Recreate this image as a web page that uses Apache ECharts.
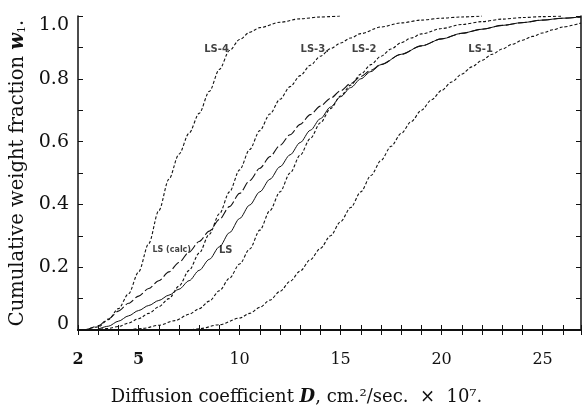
<!DOCTYPE html>
<html>
<head>
<meta charset="utf-8">
<script src="https://cdn.jsdelivr.net/npm/echarts@6/dist/echarts.min.js"></script>
<style>
  html, body { margin: 0; padding: 0; background: #fff; }
  #chart { width: 582px; height: 408px; }
</style>
</head>
<body>
<div id="chart"></div>
<script>
// cumulative weight fraction curves, [D (cm2/sec x 1e7), w]
const ls4 = [[2.35,0],[3,0.01],[3.5,0.033],[4,0.068],[4.5,0.115],[5,0.185],[5.5,0.275],[6,0.38],[6.5,0.48],[7,0.56],[7.5,0.627],[8,0.69],[8.5,0.76],[9,0.83],[9.5,0.89],[10,0.925],[10.5,0.948],[11,0.963],[12,0.98],[13,0.991],[14,0.997],[15,1.0]]
const ls3 = [[2.85,0],[3.5,0.005],[4,0.011],[4.5,0.022],[5,0.036],[5.5,0.053],[6,0.074],[6.5,0.1],[7,0.14],[7.5,0.19],[8,0.245],[8.5,0.305],[9,0.37],[9.5,0.44],[10,0.51],[10.5,0.575],[11,0.635],[11.5,0.688],[12,0.735],[12.5,0.775],[13,0.81],[13.5,0.843],[14,0.872],[14.5,0.896],[15,0.914],[15.5,0.93],[16,0.944],[17,0.965],[18,0.978],[19,0.987],[20,0.993],[21,0.997],[22,1.0]]
const ls2 = [[4.5,0],[5.2,0.005],[6,0.015],[6.8,0.03],[7.5,0.05],[8,0.068],[8.5,0.092],[9,0.125],[9.5,0.165],[10,0.21],[10.5,0.258],[11,0.318],[11.5,0.38],[12,0.44],[12.5,0.5],[13,0.557],[13.5,0.61],[14,0.66],[14.5,0.705],[15,0.745],[15.5,0.78],[16,0.815],[16.5,0.845],[17,0.872],[17.5,0.895],[18,0.915],[18.5,0.93],[19,0.943],[20,0.96],[21,0.973],[22,0.982],[23,0.99],[24,0.995],[25,0.998],[26,1.0]]
const ls1 = [[7.6,0],[8,0.004],[9,0.017],[10,0.038],[10.5,0.053],[11,0.072],[11.5,0.095],[12,0.123],[12.5,0.155],[13,0.188],[13.5,0.224],[14,0.26],[14.5,0.3],[15,0.345],[15.5,0.39],[16,0.44],[16.5,0.492],[17,0.54],[17.5,0.585],[18,0.626],[18.5,0.664],[19,0.7],[19.5,0.733],[20,0.763],[20.5,0.79],[21,0.815],[21.5,0.838],[22,0.859],[22.5,0.878],[23,0.895],[23.5,0.91],[24,0.923],[24.5,0.935],[25,0.946],[25.5,0.956],[26,0.965],[26.9,0.978]]
const lsSolid = [[2.9,0],[3.5,0.012],[4,0.028],[4.5,0.045],[5,0.062],[5.5,0.078],[6,0.094],[6.5,0.111],[7,0.13],[7.5,0.157],[8,0.19],[8.5,0.225],[9,0.265],[9.5,0.31],[10,0.355],[10.5,0.398],[11,0.44],[11.5,0.48],[12,0.52],[12.5,0.558],[13,0.597],[13.5,0.636],[14,0.673],[14.5,0.71],[15,0.743],[15.5,0.772],[16,0.8],[16.5,0.823],[17,0.845],[18,0.878],[19,0.905],[20,0.927],[21,0.945],[22,0.958],[23,0.97],[24,0.979],[25,0.987],[26,0.993],[26.9,0.997]]
const lsCalc = [[2.4,0],[3,0.013],[3.5,0.035],[4,0.06],[4.5,0.085],[5,0.108],[5.5,0.132],[6,0.157],[6.5,0.185],[7,0.215],[7.5,0.248],[8,0.282],[8.5,0.315],[9,0.352],[9.5,0.393],[10,0.435],[10.5,0.476],[11,0.515],[11.5,0.552],[12,0.588],[12.5,0.622],[13,0.655],[13.5,0.686],[14,0.713],[14.5,0.738],[15,0.762],[15.5,0.785],[16,0.807],[16.5,0.827],[17,0.846],[18,0.878],[19,0.905],[20,0.927],[21,0.945],[22,0.958],[23,0.97],[24,0.979],[25,0.987],[26,0.993],[26.9,0.997]]

// curve captions and where they sit
const captionNames = ['LS-4', 'LS-3.', 'LS-2', 'LS-1', 'LS (calc)', 'LS']
const captionPos = [[8.86,0.895],[13.72,0.893],[16.16,0.893],[21.93,0.893],[6.64,0.254],[9.31,0.254]]
const captionSizes = [10, 10, 10, 10, 8, 10]

const xTickLabels = [2, 5, 10, 15, 20, 25]
const boldXLabels = [2, 5]

const ink = '#111'
const serif = 'DejaVu Serif'

let chart = echarts.init(document.getElementById('chart'))

const curve = (name, data, dash) => ({
    name: name,
    type: 'line',
    data: data,
    smooth: 0.3,
    smoothMonotone: 'x',
    showSymbol: false,
    lineStyle: { color: ink, width: dash ? 1.1 : 1, type: dash || 'solid' },
    silent: true
})

const baseX = {
    type: 'value',
    min: 2,
    max: 26.9,
    interval: 1,
    splitLine: { show: false },
    axisTick: { inside: true, length: 5, lineStyle: { color: ink, width: 1 } },
    axisLine: { lineStyle: { color: ink, width: 2 } }
}
const baseY = {
    type: 'value',
    min: 0,
    max: 1,
    interval: 0.1,
    splitLine: { show: false },
    axisTick: { inside: true, length: 5, lineStyle: { color: ink, width: 1 } },
    axisLine: { lineStyle: { color: ink, width: 1.5 } }
}

chart.setOption({
    animation: false,
    grid: { left: 78, right: 1, top: 16, bottom: 78, outerBoundsMode: 'none' },
    xAxis: [
        Object.assign({}, baseX, {
            position: 'bottom',
            name: '{t|Diffusion coefficient }{d|D}{t|, cm.²/sec.  ×  10⁷.}',
            nameLocation: 'middle',
            nameGap: 58,
            nameTextStyle: {
                padding: [0, 66, 0, 0],
                rich: {
                    t: { fontFamily: serif, fontSize: 18, color: ink },
                    d: { fontFamily: serif, fontSize: 18, color: ink, fontStyle: 'italic', fontWeight: 'bold' }
                }
            },
            axisLabel: {
                margin: 22,
                formatter: v => {
                    if (xTickLabels.indexOf(v) < 0) return ''
                    return boldXLabels.indexOf(v) >= 0 ? '{b|' + v + '}' : '{n|' + v + '}'
                },
                rich: {
                    n: { fontFamily: serif, fontSize: 16, color: ink },
                    b: { fontFamily: serif, fontSize: 16, color: ink, fontWeight: 'bold' }
                }
            }
        }),
        Object.assign({}, baseX, { position: 'top', axisLabel: { show: false } })
    ],
    yAxis: [
        Object.assign({}, baseY, {
            position: 'left',
            name: '{t|Cumulative weight fraction }{w|w}{s|1}{t|.}',
            nameLocation: 'middle',
            nameGap: 48,
            nameTextStyle: {
                rich: {
                    t: { fontFamily: serif, fontSize: 19.5, color: ink },
                    w: { fontFamily: serif, fontSize: 19.5, color: ink, fontStyle: 'italic', fontWeight: 'bold' },
                    s: { fontFamily: serif, fontSize: 11, color: ink, verticalAlign: 'bottom', lineHeight: 19 }
                }
            },
            axisLabel: {
                margin: 9,
                verticalAlignMinLabel: 'bottom',
                verticalAlignMaxLabel: 'top',
                formatter: v => {
                    const k = Math.round(v * 10)
                    if (k % 2) return ''
                    if (k === 0) return '{z|0}'
                    if (k === 10) return '{m|1.0}'
                    return '{n|' + (k / 10).toFixed(1) + '}'
                },
                rich: {
                    n: { fontFamily: serif, fontSize: 19, color: ink },
                    z: { fontFamily: serif, fontSize: 19, color: ink, lineHeight: 12 },
                    m: { fontFamily: serif, fontSize: 19, color: ink, lineHeight: 18 }
                }
            }
        }),
        Object.assign({}, baseY, { position: 'right', axisLabel: { show: false } })
    ],
    series: [
        curve('LS-4', ls4, [3, 2]),
        curve('LS-3', ls3, [3, 2]),
        curve('LS-2', ls2, [3, 2]),
        curve('LS-1', ls1, [3, 2]),
        curve('LS', lsSolid, null),
        curve('LS (calc)', lsCalc, [9, 3]),
        {
            type: 'scatter',
            symbolSize: 0,
            silent: true,
            data: captionNames.map((n, i) => ({
                name: n,
                value: captionPos[i],
                label: { fontSize: captionSizes[i] }
            })),
            label: {
                show: true,
                position: 'inside',
                formatter: '{b}',
                fontFamily: 'DejaVu Sans',
                fontWeight: 'bold',
                color: ink
            }
        }
    ]
})
</script>
</body>
</html>
